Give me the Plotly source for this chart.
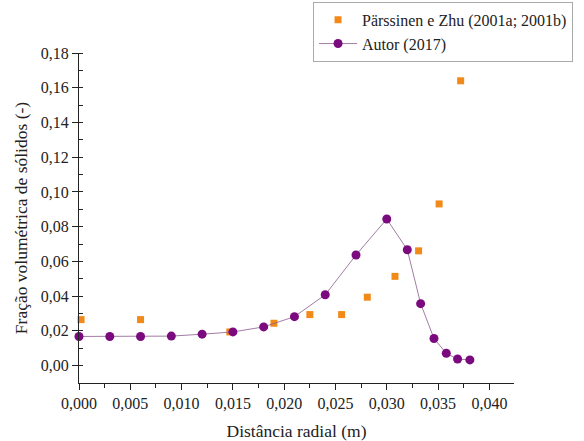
import plotly.graph_objects as go

# Pärssinen e Zhu (2001a; 2001b)
px_x = [0.0002, 0.0060, 0.0147, 0.0190, 0.0225, 0.0256, 0.0281, 0.0308, 0.0331, 0.0351, 0.0372]
px_y = [0.0265, 0.0265, 0.0194, 0.0244, 0.0294, 0.0294, 0.0394, 0.0514, 0.0661, 0.0931, 0.1640]

# Autor (2017)
au_x = [0.000, 0.003, 0.006, 0.009, 0.012, 0.015, 0.018, 0.021, 0.024, 0.027, 0.030,
        0.0320, 0.0333, 0.0346, 0.0358, 0.0369, 0.0381]
au_y = [0.0168, 0.0168, 0.0168, 0.0170, 0.0181, 0.0194, 0.0223, 0.0282, 0.0408, 0.0637, 0.0844,
        0.0667, 0.0357, 0.0156, 0.0071, 0.0038, 0.0033]

FONT = "Liberation Serif"
ORANGE = "#F28A1A"
PURPLE = "#7A0A7E"

fig = go.Figure()
fig.add_trace(go.Scatter(
    x=px_x, y=px_y, mode="markers", name="Pärssinen e Zhu (2001a; 2001b)",
    marker=dict(symbol="square", size=7, color=ORANGE), cliponaxis=False))
fig.add_trace(go.Scatter(
    x=au_x, y=au_y, mode="lines+markers", name="Autor (2017)",
    line=dict(color="#8A5A8E", width=0.8),
    marker=dict(symbol="circle", size=9, color=PURPLE), cliponaxis=False))

fig.update_layout(
    template="none",
    width=584, height=441,
    margin=dict(l=79, r=70, t=53, b=58, autoexpand=False),
    paper_bgcolor="white", plot_bgcolor="white",
    separators=",.",
    font=dict(family=FONT, size=16, color="#222"),
    showlegend=True,
    legend=dict(x=0.538, y=1.155, xanchor="left", yanchor="top",
                bordercolor="#AAAAAA", borderwidth=1, bgcolor="white",
                font=dict(family=FONT, size=16, color="#222"),
                itemwidth=38, tracegroupgap=0, itemsizing="trace"),
    xaxis=dict(
        automargin=False,
        range=[0, 0.0424], tickvals=[0, 0.005, 0.01, 0.015, 0.02, 0.025, 0.03, 0.035, 0.04],
        tickformat=".3f", ticks="outside", ticklen=6, tickwidth=1, tickcolor="#222",
        showline=True, linecolor="#222", linewidth=1.2, showgrid=False, zeroline=False,
        minor=dict(dtick=0.0025, tick0=0, ticks="outside", ticklen=4, tickcolor="#222", showgrid=False),
        title=dict(text="Distância radial (m)", font=dict(family=FONT, size=17.5), standoff=14),
    ),
    yaxis=dict(
        automargin=False,
        range=[-0.01, 0.18], dtick=0.02, tick0=0,
        tickformat=".2f", ticks="outside", ticklen=6, tickwidth=1, tickcolor="#222",
        showline=True, linecolor="#222", linewidth=1.2, showgrid=False, zeroline=False,
        minor=dict(dtick=0.01, tick0=0, ticks="inside", ticklen=4, tickcolor="#222", showgrid=False),
        title=dict(text="Fração volumétrica de sólidos (-)", font=dict(family=FONT, size=17.5), standoff=8),
    ),
)

fig.write_html("out.html")
